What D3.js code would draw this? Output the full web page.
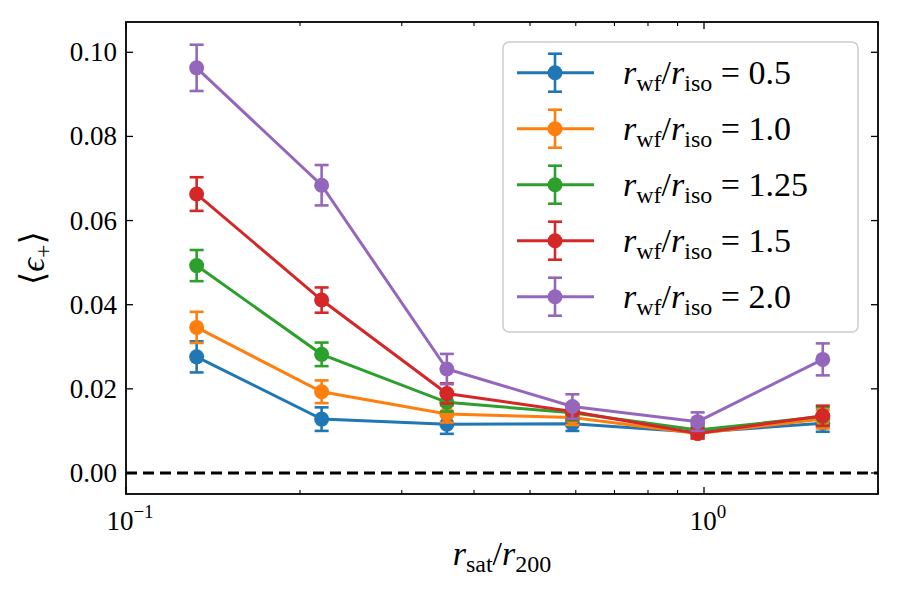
<!DOCTYPE html>
<html>
<head>
<meta charset="utf-8">
<script src="https://cdn.jsdelivr.net/npm/d3@7"></script>
<style>
  body { margin: 0; background: #fff; }
</style>
</head>
<body>
<svg id="chart" width="900" height="600"></svg>
<script>
// ---- data ----
const xValues = [0.1325, 0.218, 0.359, 0.592, 0.975, 1.605];
const seriesLabels = ["0.5", "1.0", "1.25", "1.5", "2.0"];
const seriesColors = ["#1f77b4", "#ff7f0e", "#2ca02c", "#d62728", "#9467bd"];
const blueVals   = [0.0276, 0.0128, 0.0116, 0.0117, 0.0097, 0.0118];
const blueErr    = [0.0037, 0.0028, 0.0023, 0.0017, 0.0013, 0.0020];
const orangeVals = [0.0346, 0.0193, 0.0140, 0.0132, 0.0094, 0.0128];
const orangeErr  = [0.0037, 0.0027, 0.0020, 0.0018, 0.0012, 0.0022];
const greenVals  = [0.0493, 0.0282, 0.0168, 0.0143, 0.0102, 0.0134];
const greenErr   = [0.0037, 0.0028, 0.0022, 0.0018, 0.0013, 0.0022];
const redVals    = [0.0663, 0.0411, 0.0189, 0.0146, 0.0094, 0.0136];
const redErr     = [0.0040, 0.0030, 0.0024, 0.0018, 0.0012, 0.0024];
const purpleVals = [0.0963, 0.0684, 0.0247, 0.0158, 0.0122, 0.0270];
const purpleErr  = [0.0055, 0.0048, 0.0036, 0.0029, 0.0022, 0.0038];
const yTicks = [0.00, 0.02, 0.04, 0.06, 0.08, 0.10];
const xMajorTicks = [0.1, 1];
const xMinorTicks = [0.2, 0.3, 0.4, 0.5, 0.6, 0.7, 0.8, 0.9, 2];

const series = [
  {label: seriesLabels[0], color: seriesColors[0], vals: blueVals, err: blueErr},
  {label: seriesLabels[1], color: seriesColors[1], vals: orangeVals, err: orangeErr},
  {label: seriesLabels[2], color: seriesColors[2], vals: greenVals, err: greenErr},
  {label: seriesLabels[3], color: seriesColors[3], vals: redVals, err: redErr},
  {label: seriesLabels[4], color: seriesColors[4], vals: purpleVals, err: purpleErr},
];

// ---- layout ----
const FONT = "'Liberation Serif', 'DejaVu Serif', 'Noto Serif', serif";
const L = 126, R = 878, T = 22, B = 494;
const svg = d3.select("#chart").attr("font-family", FONT);
const x = d3.scaleLog().domain([0.1, 2.0]).range([L, R]);
const y = d3.scaleLinear().domain([-0.005, 0.1072]).range([B, T]);

const plot = svg.append("g");
plot.append("clipPath").attr("id", "clip").append("rect")
  .attr("x", L).attr("y", T).attr("width", R - L).attr("height", B - T);

// zero dashed line
plot.append("line")
  .attr("x1", L).attr("x2", R).attr("y1", y(0)).attr("y2", y(0))
  .attr("stroke", "#000").attr("stroke-width", 3)
  .attr("stroke-dasharray", "11,6");

const lineGen = d3.line().x((d, i) => x(xValues[i])).y(d => y(d));
const cap = 7;

series.forEach(s => {
  const g = plot.append("g").attr("clip-path", "url(#clip)");
  s.vals.forEach((v, i) => {
    const cx = x(xValues[i]);
    const y1 = y(v - s.err[i]), y2 = y(v + s.err[i]);
    g.append("line").attr("x1", cx).attr("x2", cx).attr("y1", y1).attr("y2", y2)
      .attr("stroke", s.color).attr("stroke-width", 2.6);
    [y1, y2].forEach(yy => g.append("line")
      .attr("x1", cx - cap).attr("x2", cx + cap).attr("y1", yy).attr("y2", yy)
      .attr("stroke", s.color).attr("stroke-width", 2.6));
  });
  g.append("path").attr("d", lineGen(s.vals))
    .attr("fill", "none").attr("stroke", s.color).attr("stroke-width", 3);
  g.selectAll("circle.m").data(s.vals).enter().append("circle")
    .attr("cx", (d, i) => x(xValues[i])).attr("cy", d => y(d))
    .attr("r", 7.5).attr("fill", s.color);
});

// ---- frame & ticks ----
const ax = svg.append("g");
ax.append("rect").attr("x", L).attr("y", T).attr("width", R - L).attr("height", B - T)
  .attr("fill", "none").attr("stroke", "#000").attr("stroke-width", 1.8);

const major = 7, minor = 4;
yTicks.forEach(t => {
  const yy = y(t);
  ax.append("line").attr("x1", L).attr("x2", L + major).attr("y1", yy).attr("y2", yy)
    .attr("stroke", "#000").attr("stroke-width", 1.3);
  ax.append("line").attr("x1", R).attr("x2", R - major).attr("y1", yy).attr("y2", yy)
    .attr("stroke", "#000").attr("stroke-width", 1.3);
  ax.append("text").attr("x", L - 9).attr("y", yy + 9)
    .attr("text-anchor", "end").attr("font-size", 27).text(t.toFixed(2));
});
xMajorTicks.forEach(t => {
  const xx = x(t);
  ax.append("line").attr("x1", xx).attr("x2", xx).attr("y1", B).attr("y2", B - major)
    .attr("stroke", "#000").attr("stroke-width", 1.3);
  ax.append("line").attr("x1", xx).attr("x2", xx).attr("y1", T).attr("y2", T + major)
    .attr("stroke", "#000").attr("stroke-width", 1.3);
  const exp = Math.round(Math.log10(t));
  const txt = ax.append("text").attr("x", xx + 4).attr("y", B + 36)
    .attr("text-anchor", "middle").attr("font-size", 27);
  txt.append("tspan").text("10");
  txt.append("tspan").attr("dy", -12).attr("font-size", 19)
    .text(exp < 0 ? "\u2212" + Math.abs(exp) : String(exp));
});
xMinorTicks.forEach(t => {
  const xx = x(t);
  if (xx > R + 0.5) return;
  ax.append("line").attr("x1", xx).attr("x2", xx).attr("y1", B).attr("y2", B - minor)
    .attr("stroke", "#000").attr("stroke-width", 1.1);
  ax.append("line").attr("x1", xx).attr("x2", xx).attr("y1", T).attr("y2", T + minor)
    .attr("stroke", "#000").attr("stroke-width", 1.1);
});

// ---- axis labels ----
const xl = svg.append("text").attr("x", (L + R) / 2).attr("y", 565)
  .attr("text-anchor", "middle").attr("font-size", 34);
xl.append("tspan").attr("font-style", "italic").text("r");
xl.append("tspan").attr("dy", 7).attr("font-size", 24).text("sat");
xl.append("tspan").attr("dy", -7).text("/");
xl.append("tspan").attr("font-style", "italic").text("r");
xl.append("tspan").attr("dy", 7).attr("font-size", 24).text("200");

const yl = svg.append("text").attr("transform", `translate(44,${(T + B) / 2}) rotate(-90)`)
  .attr("text-anchor", "middle").attr("font-size", 34);
yl.append("tspan").text("\u27E8");
yl.append("tspan").attr("font-style", "italic").text("\u03F5");
yl.append("tspan").attr("dy", 7).attr("font-size", 24).text("+");
yl.append("tspan").attr("dy", -7).text("\u27E9");

// ---- legend ----
const lg = svg.append("g");
lg.append("rect").attr("x", 503).attr("y", 42).attr("width", 355).attr("height", 290)
  .attr("rx", 6).attr("fill", "#fff").attr("fill-opacity", 0.8)
  .attr("stroke", "#cccccc").attr("stroke-width", 1.5);
series.forEach((s, i) => {
  const yy = 72.7 + i * 56;
  const g = lg.append("g");
  g.append("line").attr("x1", 517).attr("x2", 594).attr("y1", yy).attr("y2", yy)
    .attr("stroke", s.color).attr("stroke-width", 3);
  g.append("line").attr("x1", 555).attr("x2", 555).attr("y1", yy - 19).attr("y2", yy + 19)
    .attr("stroke", s.color).attr("stroke-width", 2.6);
  [yy - 19, yy + 19].forEach(v => g.append("line").attr("x1", 548).attr("x2", 562)
    .attr("y1", v).attr("y2", v).attr("stroke", s.color).attr("stroke-width", 2.6));
  g.append("circle").attr("cx", 555).attr("cy", yy).attr("r", 7.5).attr("fill", s.color);
  const t = g.append("text").attr("x", 623).attr("y", yy + 11).attr("font-size", 34);
  t.append("tspan").attr("font-style", "italic").text("r");
  t.append("tspan").attr("dy", 7).attr("font-size", 24).text("wf");
  t.append("tspan").attr("dy", -7).text("/");
  t.append("tspan").attr("font-style", "italic").text("r");
  t.append("tspan").attr("dy", 7).attr("font-size", 24).text("iso");
  t.append("tspan").attr("dy", -7).text(" = " + s.label);
});
</script>
</body>
</html>
